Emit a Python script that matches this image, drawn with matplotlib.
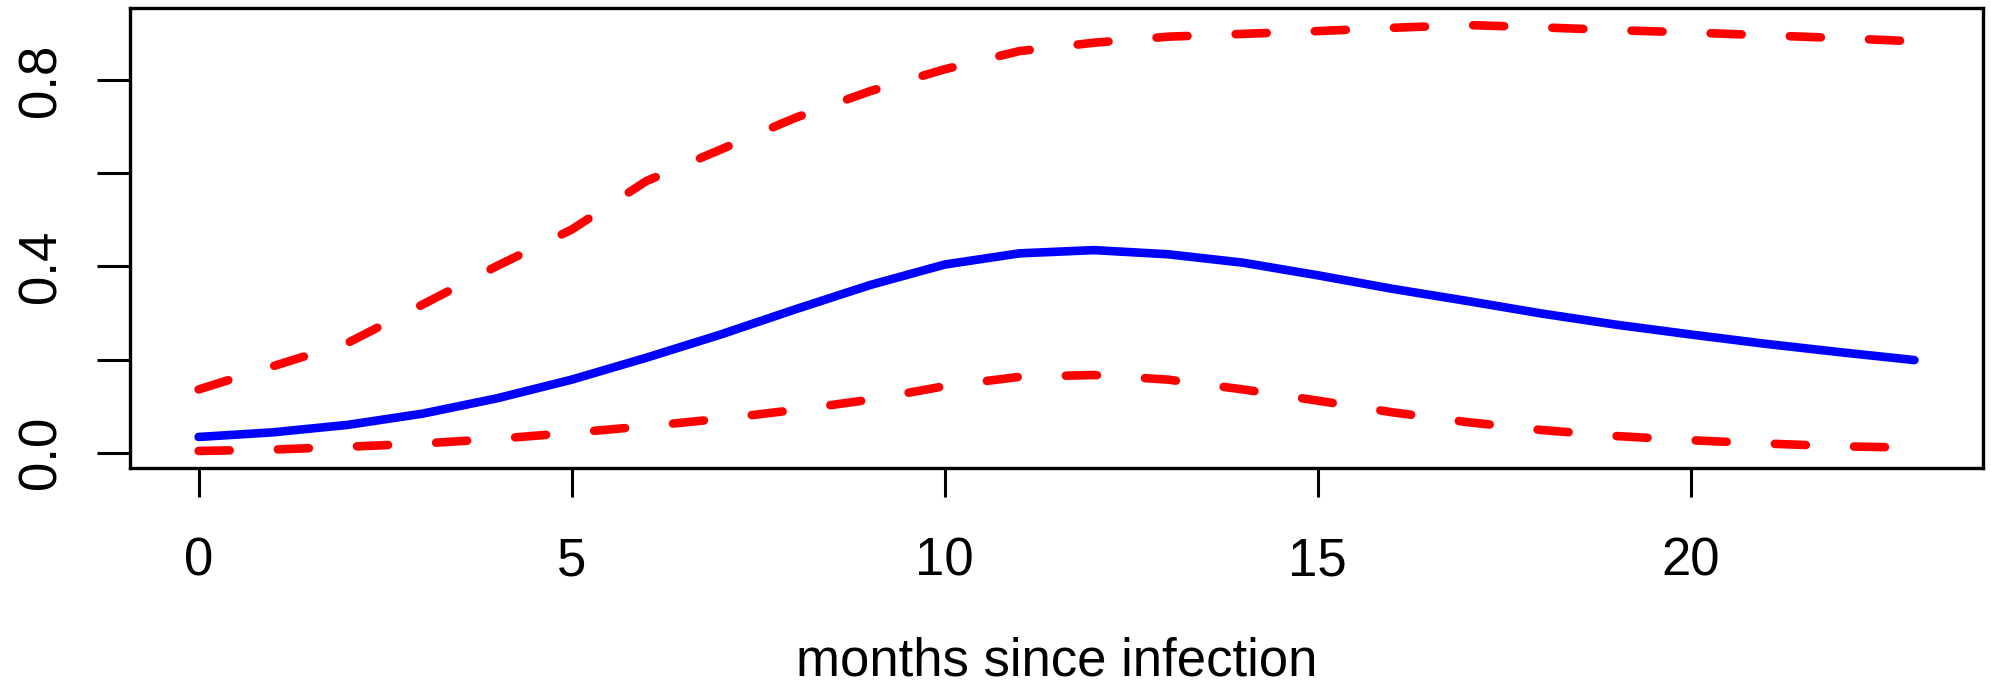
import numpy as np
import matplotlib
matplotlib.use("Agg")
import matplotlib.pyplot as plt

plt.rcParams['font.family'] = ['Liberation Sans', 'DejaVu Sans']

# values
months = np.arange(0, 24)
mean_est = [0.034, 0.044, 0.060, 0.084, 0.117, 0.157, 0.204, 0.254, 0.308, 0.360,
            0.404, 0.428, 0.435, 0.426, 0.408, 0.381, 0.352, 0.326, 0.299, 0.275,
            0.254, 0.234, 0.216, 0.199]
upper_ci = [0.136, 0.186, 0.236, 0.318, 0.401, 0.479, 0.583, 0.651, 0.719, 0.776,
            0.823, 0.862, 0.880, 0.893, 0.899, 0.905, 0.912, 0.918, 0.913, 0.907,
            0.902, 0.896, 0.890, 0.883]
lower_ci = [0.004, 0.007, 0.013, 0.020, 0.030, 0.043, 0.057, 0.073, 0.092, 0.114,
            0.143, 0.163, 0.167, 0.157, 0.136, 0.112, 0.087, 0.066, 0.049, 0.036,
            0.027, 0.020, 0.014, 0.011]
xticks = [0, 5, 10, 15, 20]
yticks = [0.0, 0.2, 0.4, 0.6, 0.8]
ytick_labels = ['0.0', '', '0.4', '', '0.8']

fig = plt.figure(figsize=(19.91, 6.83), dpi=100)
ax = fig.add_axes([0.0653, 0.3148, 0.9307, 0.6735])

lw = 6.2
ax.plot(months, mean_est, color='#0000FF', lw=lw,
        solid_capstyle='round', solid_joinstyle='round')
for band in (upper_ci, lower_ci):
    ax.plot(months, band, color='#FF0000', lw=lw, dashes=(3.6, 5.6),
            dash_capstyle='round', dash_joinstyle='round')

# R style 4% padding
xr = months.max() - months.min()
ax.set_xlim(months.min() - 0.04 * xr, months.max() + 0.04 * xr)
lo, hi = min(lower_ci), max(upper_ci)
ax.set_ylim(lo - 0.04 * (hi - lo), hi + 0.04 * (hi - lo))

ax.set_xticks(xticks)
ax.set_yticks(yticks)
ax.set_yticklabels(ytick_labels, rotation=90, va='center')
for s in ax.spines.values():
    s.set_linewidth(2.4)
ax.tick_params(axis='x', length=21, width=2.2, pad=28, labelsize=38)
ax.tick_params(axis='y', length=24, width=2.2, pad=22, labelsize=38)

ax.set_xlabel('months since infection', fontsize=38, va='baseline')
ax.xaxis.set_label_coords(0.5, -0.452)

plt.savefig('out.png', dpi=100)
